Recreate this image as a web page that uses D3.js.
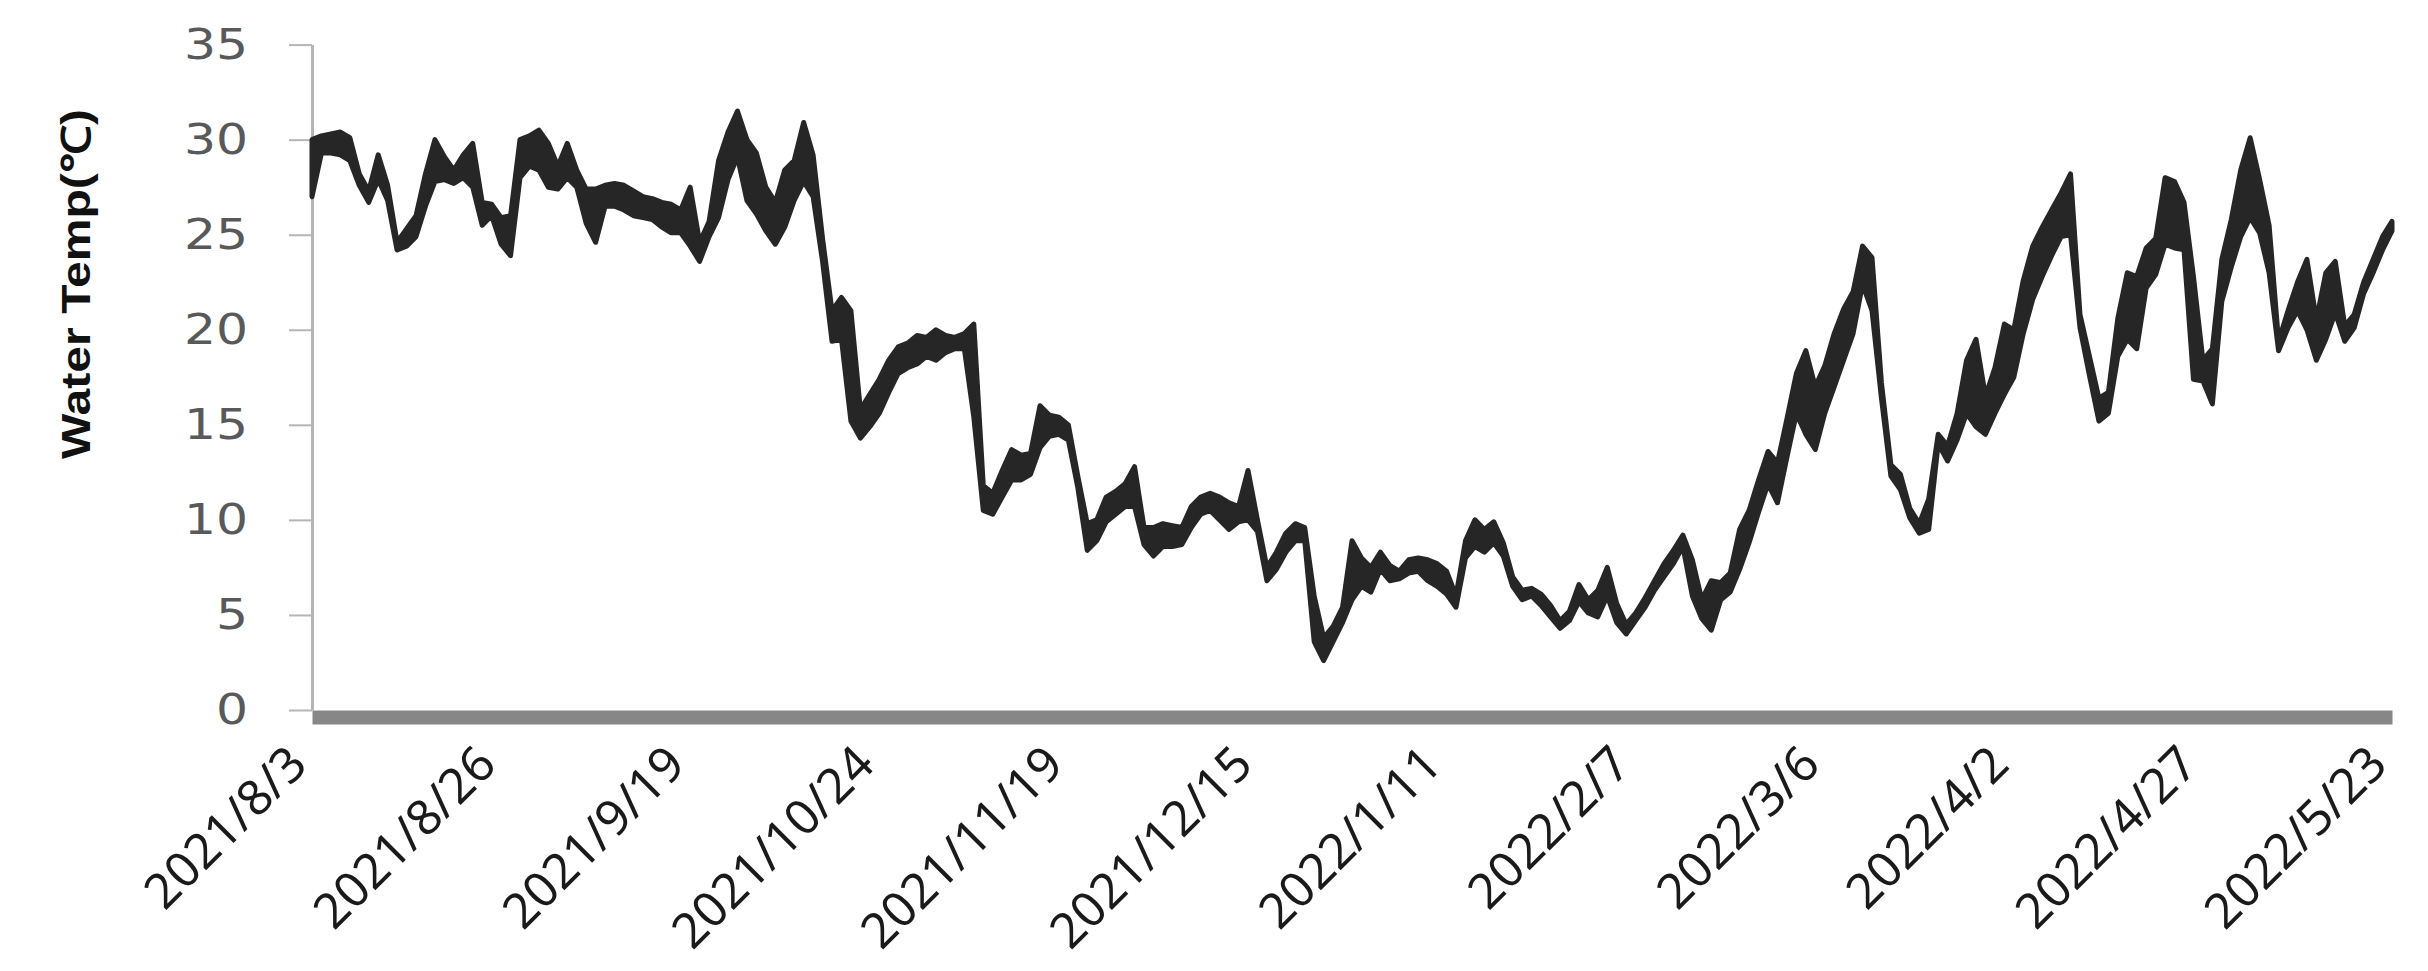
<!DOCTYPE html>
<html>
<head>
<meta charset="utf-8">
<script src="https://cdn.jsdelivr.net/npm/d3@7"></script>
<style>
  body { margin: 0; background: #ffffff; }
  svg { display: block; }
</style>
</head>
<body>
<div id="container"></div>
<script>
const w = 2428,
    h = 971;

// category labels shown on the x axis (equally spaced, category axis)
var dateLabels = ["2021/8/3", "2021/8/26", "2021/9/19", "2021/10/24", "2021/11/19", "2021/12/15",
    "2022/1/11", "2022/2/7", "2022/3/6", "2022/4/2", "2022/4/27", "2022/5/23"];
var yTicks = [0, 5, 10, 15, 20, 25, 30, 35];

// water temperature, 20 samples between two date labels
// low / high = bottom and top of the daily swing at each sample
var tempLow = [
    27.0, 29.3, 29.3, 29.2, 28.9, 27.6, 26.7, 27.9, 26.8, 24.2, 24.4, 24.9, 26.5, 27.8, 27.9, 27.7, 28.0, 27.5, 25.5, 26.0,
    24.5, 23.9, 28.0, 28.6, 28.4, 27.5, 27.4, 28.0, 27.5, 25.6, 24.6, 26.5, 26.5, 26.3, 26.0, 25.9, 25.8, 25.4, 25.1, 25.1,
    24.4, 23.6, 24.9, 25.9, 27.9, 29.1, 26.8, 26.1, 25.2, 24.5, 25.4, 26.8, 27.8, 27.0, 23.6, 19.4, 19.5, 15.2, 14.3, 14.9,
    15.6, 16.7, 17.7, 18.0, 18.2, 18.6, 18.4, 18.8, 19.0, 19.0, 15.4, 10.5, 10.3, 11.2, 12.1, 12.1, 12.4, 13.8, 14.4, 14.5,
    14.2, 11.7, 8.4, 8.9, 9.9, 10.3, 10.7, 10.7, 8.7, 8.1, 8.6, 8.6, 8.7, 9.6, 10.3, 10.5, 10.0, 9.5, 9.9, 10.0,
    9.4, 6.8, 7.4, 8.3, 8.9, 8.9, 3.6, 2.6, 3.6, 4.6, 5.8, 6.5, 6.2, 7.4, 6.8, 6.9, 7.2, 7.3, 6.8, 6.5,
    6.1, 5.4, 8.0, 8.6, 8.3, 8.8, 8.1, 6.5, 5.8, 6.0, 5.5, 4.9, 4.3, 4.7, 5.7, 5.1, 4.9, 6.0, 4.6, 4.0,
    4.7, 5.4, 6.3, 7.0, 7.7, 8.6, 6.0, 4.8, 4.2, 5.8, 6.2, 7.4, 8.8, 10.4, 11.9, 10.9, 13.3, 15.6, 14.5, 13.7,
    15.6, 17.0, 18.4, 19.8, 22.4, 21.0, 16.4, 12.3, 11.6, 10.1, 9.3, 9.5, 14.0, 13.1, 14.2, 15.6, 14.9, 14.5, 15.6, 16.6,
    17.5, 19.8, 21.6, 22.8, 23.9, 24.9, 25.0, 20.1, 17.6, 15.2, 15.6, 18.6, 19.5, 19.0, 22.2, 22.9, 24.5, 24.3, 24.2, 17.4,
    17.3, 16.1, 21.5, 23.3, 24.9, 25.9, 25.1, 23.0, 18.9, 20.1, 21.0, 20.0, 18.4, 19.5, 20.9, 19.4, 20.1, 21.9, 23.0, 24.2,
    25.2];
var tempHigh = [
    30.0, 30.2, 30.3, 30.4, 30.1, 28.2, 27.3, 29.2, 27.6, 24.6, 25.3, 26.0, 28.2, 30.0, 29.1, 28.4, 29.2, 29.8, 26.7, 26.6,
    25.9, 26.0, 30.0, 30.2, 30.5, 29.8, 28.6, 29.8, 28.4, 27.4, 27.4, 27.6, 27.7, 27.6, 27.3, 27.0, 26.9, 26.7, 26.6, 26.3,
    27.5, 24.6, 25.7, 28.9, 30.4, 31.5, 30.0, 29.3, 27.5, 26.7, 28.4, 28.9, 30.9, 29.2, 24.8, 21.0, 21.7, 21.0, 15.8, 16.6,
    17.4, 18.4, 19.1, 19.3, 19.7, 19.6, 20.0, 19.7, 19.6, 19.8, 20.3, 11.8, 11.4, 12.6, 13.7, 13.4, 13.5, 16.0, 15.5, 15.4,
    15.0, 12.3, 9.8, 10.0, 11.2, 11.5, 11.9, 12.8, 9.6, 9.6, 9.8, 9.7, 9.6, 10.7, 11.2, 11.4, 11.2, 10.9, 10.7, 12.6,
    10.0, 7.5, 8.3, 9.3, 9.8, 9.6, 6.0, 3.8, 4.4, 5.4, 8.9, 8.0, 7.5, 8.3, 7.6, 7.3, 7.9, 8.0, 7.9, 7.7,
    7.3, 6.0, 8.9, 10.0, 9.5, 9.9, 8.8, 7.0, 6.3, 6.4, 6.1, 5.5, 4.7, 5.2, 6.6, 5.8, 6.3, 7.5, 5.6, 4.5,
    5.1, 5.9, 6.8, 7.7, 8.4, 9.2, 7.9, 5.8, 6.8, 6.7, 7.2, 9.5, 10.5, 12.1, 13.6, 13.0, 15.3, 17.7, 18.9, 17.0,
    18.1, 19.8, 21.1, 22.0, 24.4, 23.8, 17.2, 12.9, 12.4, 10.6, 9.8, 11.1, 14.5, 13.9, 15.6, 18.4, 19.5, 16.5, 18.0, 20.3,
    20.0, 22.6, 24.4, 25.4, 26.3, 27.2, 28.2, 20.8, 18.6, 16.4, 16.7, 20.6, 23.0, 22.8, 24.3, 24.8, 28.0, 27.8, 26.7, 22.8,
    18.4, 19.0, 23.7, 25.8, 28.4, 30.1, 27.9, 25.5, 19.4, 21.0, 22.5, 23.7, 20.5, 23.0, 23.6, 20.2, 20.8, 22.5, 23.7, 24.9,
    25.7];

var svg = d3
    .select("div#container")
    .append("svg")
    .attr("width", w)
    .attr("height", h)
    .style("background-color", "#ffffff");

var plot = {left: 312, right: 2392, top: 44.6, bottom: 710};

var x = d3.scaleLinear()
    .domain([0, tempLow.length - 1])
    .range([plot.left, plot.right]);
var xLab = d3.scalePoint()
    .domain(dateLabels)
    .range([plot.left, plot.right]);
var y = d3.scaleLinear()
    .domain([0, 35])
    .range([plot.bottom, plot.top]);

// x axis: the thick grey base bar and slanted date labels
var xAxis = svg.append("g")
    .attr("transform", "translate(0,717)")
    .call(d3.axisBottom(xLab).tickSize(0).tickSizeOuter(0));
xAxis.select(".domain")
    .attr("stroke", "#878787")
    .attr("stroke-width", 14);
xAxis.selectAll(".tick text")
    .attr("y", 0)
    .attr("dy", 0)
    .attr("text-anchor", "end")
    .attr("transform", "translate(-3,50) rotate(-45)")
    .style("font-family", "'Noto Sans', sans-serif")
    .style("font-size", "49px")
    .style("fill", "#1a1a1a");

// y axis (tick labels drawn a little wide, like the original)
var yAxis = svg.append("g")
    .attr("transform", "translate(" + plot.left + ",0)")
    .call(d3.axisLeft(y).tickValues(yTicks).tickSize(23).tickSizeOuter(0).tickPadding(41));
yAxis.select(".domain")
    .attr("stroke", "#b5b5b5")
    .attr("stroke-width", 3);
yAxis.selectAll(".tick line")
    .attr("stroke", "#b5b5b5")
    .attr("stroke-width", 2);
yAxis.selectAll(".tick text")
    .attr("x", -64 / 1.2)
    .attr("transform", "scale(1.2,1)")
    .style("font-family", "'DejaVu Sans', sans-serif")
    .style("font-size", "42px")
    .style("fill", "#595959");

svg.append("text")
    .attr("transform", "translate(90,284) rotate(-90)")
    .attr("text-anchor", "middle")
    .attr("textLength", 350)
    .attr("lengthAdjust", "spacingAndGlyphs")
    .style("font-family", "'Liberation Sans', sans-serif")
    .style("font-weight", "bold")
    .style("font-size", "40px")
    .style("fill", "#111111")
    .text("Water Temp(℃)");

// temperature trace: band between daily low and high, outlined so thin parts read as a line
var band = d3.area()
    .x(i => x(i))
    .y0(i => y(tempLow[i]))
    .y1(i => y(tempHigh[i]));

svg.append("path")
    .datum(d3.range(tempLow.length))
    .attr("d", band)
    .attr("fill", "#262626")
    .attr("stroke", "#262626")
    .attr("stroke-width", 5)
    .attr("stroke-linejoin", "round");
</script>
</body>
</html>
